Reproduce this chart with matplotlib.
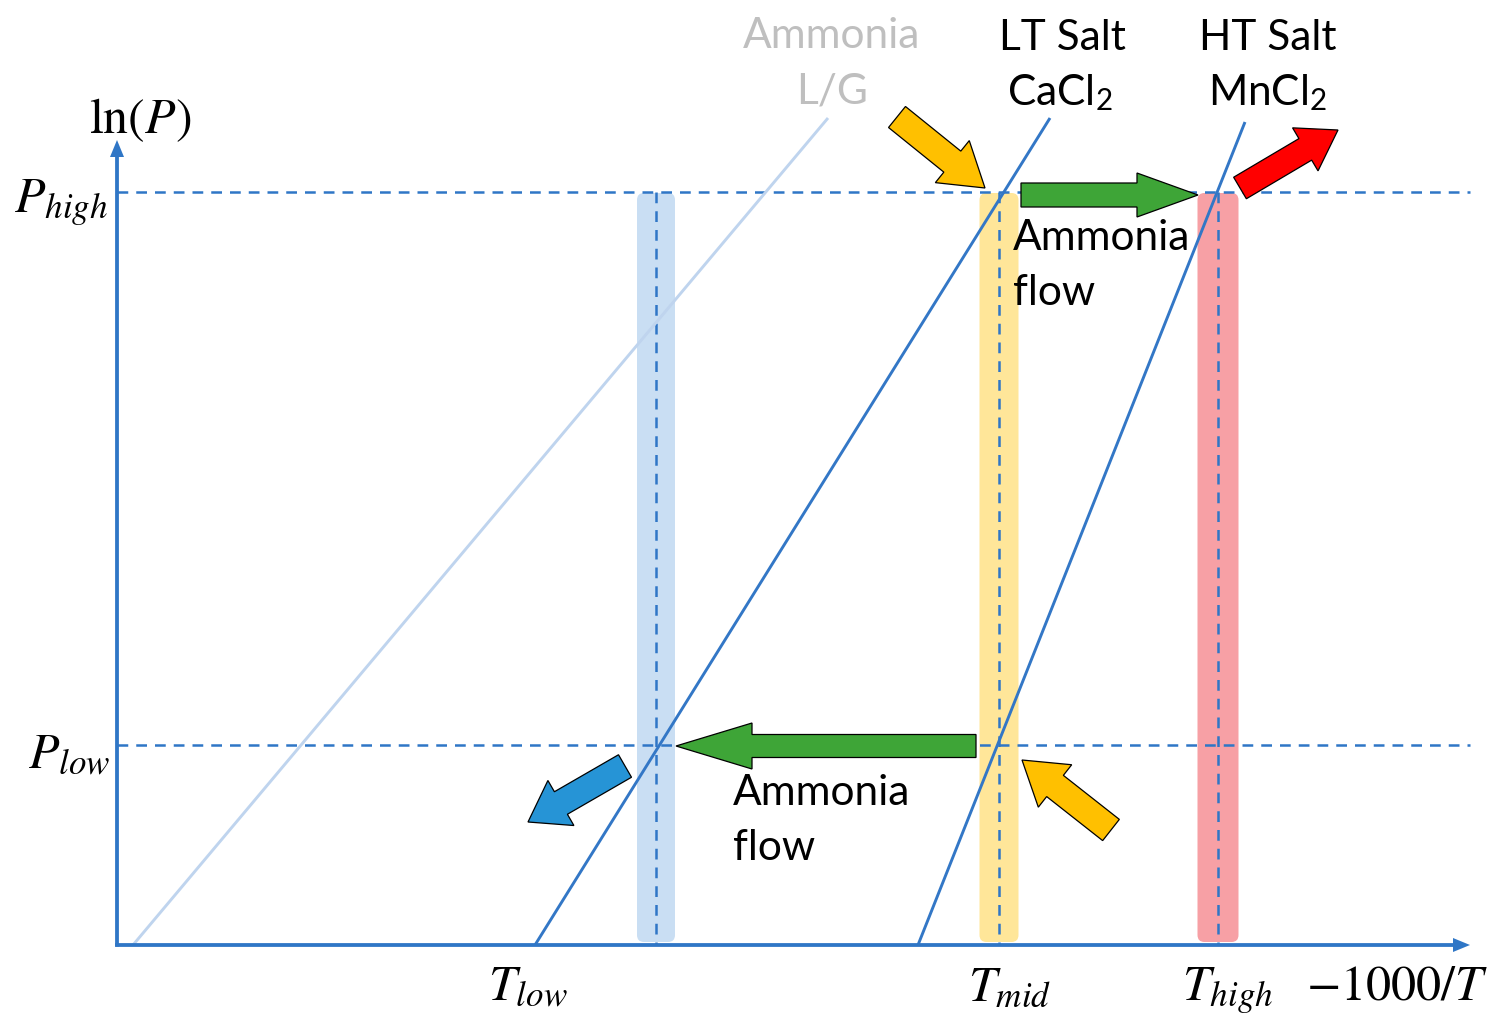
import matplotlib
matplotlib.use('Agg')
import matplotlib.pyplot as plt
from matplotlib.patches import FancyArrow, FancyBboxPatch

plt.rcParams['font.family'] = ['Lato', 'DejaVu Sans']
plt.rcParams['mathtext.fontset'] = 'stix'

# schematic coordinates (x: -1000/T, y: ln P, drawn top-down)
x_origin, y_origin = 117, 945
x_end, y_end = 1470, 140

# pressure levels and temperature levels
p_names = ['$P_{high}$', '$P_{low}$']
p_levels = [192, 745]
t_names = ['$T_{low}$', '$T_{mid}$', '$T_{high}$']
t_levels = [656, 999, 1218]
band_colors = ['#C9DEF3', '#FFE699', '#F7A0A5']
band_widths = [38, 39, 41]

# isostere lines (bottom x, top x, top y)
iso_x0 = [133, 535, 918]
iso_x1 = [828, 1050, 1245]
iso_ytop = [118, 118, 122]
iso_colors = ['#BFD4EE', '#3377C6', '#3377C6']

# heat / ammonia flow arrows: tail, tip, shaft width, head width, head length, colour
arr_tail = [(897, 117), (1021, 195), (1240, 188), (976, 746), (625, 766), (1111, 830)]
arr_tip = [(985, 188), (1198, 195), (1338, 130), (676, 746), (528, 822), (1022, 760)]
arr_width = [27, 24, 25, 23, 26, 27]
arr_head = [54, 44, 50, 46, 52, 54]
arr_hlen = [42, 61, 38, 76, 38, 42]
arr_colors = ['#FFC000', '#3EA537', '#FF0000', '#3EA537', '#2694D6', '#FFC000']

blue = '#2F76C6'

fig = plt.figure(figsize=(15.02, 10.28), dpi=100)
ax = fig.add_axes([0, 0, 1, 1])
ax.set_xlim(0, 1502)
ax.set_ylim(1028, 0)
ax.axis('off')

# temperature bands
for t, c, w in zip(t_levels, band_colors, band_widths):
    ax.add_patch(FancyBboxPatch((t - w / 2, p_levels[0] + 1), w, y_origin - p_levels[0] - 4,
                                boxstyle='round,pad=0,rounding_size=7', fc=c, ec='none', zorder=1))

# dashed guides
for p in p_levels:
    ax.plot([x_origin, x_end], [p, p], color=blue, lw=1.8, ls=(0, (4.3, 3.2)), zorder=2)
for t in t_levels:
    ax.plot([t, t], [p_levels[0], y_origin], color=blue, lw=1.8, ls=(0, (4.3, 3.2)), zorder=2)

# isosteres
for x0, x1, yt, c in zip(iso_x0, iso_x1, iso_ytop, iso_colors):
    ax.plot([x0, x1], [y_origin, yt], color=c, lw=2.1, zorder=3, solid_capstyle='butt')

# axes with arrow heads
ax.add_patch(FancyArrow(x_origin, y_origin + 1.5, 0, y_end - y_origin - 1.5, width=3.8, head_width=14,
                        head_length=17, length_includes_head=True, color=blue, lw=0, zorder=4))
ax.add_patch(FancyArrow(x_origin - 1.9, y_origin, x_end - x_origin + 1.9, 0, width=3.8, head_width=14,
                        head_length=17, length_includes_head=True, color=blue, lw=0, zorder=4))

# flow arrows
for (x0, y0), (x1, y1), w, hw, hl, c in zip(arr_tail, arr_tip, arr_width, arr_head, arr_hlen, arr_colors):
    ax.add_patch(FancyArrow(x0, y0, x1 - x0, y1 - y0, width=w, head_width=hw, head_length=hl,
                            length_includes_head=True, fc=c, ec='black', lw=0.9, zorder=5))

# math labels
ms = 36
ax.text(140, 133, r'$\ln(P)$', fontsize=ms, ha='center', va='baseline')
ax.text(108, 212, p_names[0], fontsize=ms, ha='right', va='baseline')
ax.text(110, 768, p_names[1], fontsize=ms, ha='right', va='baseline')
t_label_x = [528, 1010, 1228]
for tx, name in zip(t_label_x, t_names):
    ax.text(tx, 1000, name, fontsize=ms, ha='center', va='baseline')
ax.text(1397, 1000, r'$-1000/T$', fontsize=ms, ha='center', va='baseline')

# text labels
fs = 30.5
ax.text(832, 48, 'Ammonia', fontsize=fs, color='#BFBFBF', ha='center', va='baseline')
ax.text(832, 103, 'L/G', fontsize=fs, color='#BFBFBF', ha='center', va='baseline')
ax.text(1062, 50, 'LT Salt', fontsize=fs, ha='center', va='baseline')
ax.text(1060, 105, r'CaCl$_\mathregular{2}$', fontsize=fs, ha='center', va='baseline')
ax.text(1268, 50, 'HT Salt', fontsize=fs, ha='center', va='baseline')
ax.text(1268, 105, r'MnCl$_\mathregular{2}$', fontsize=fs, ha='center', va='baseline')
ax.text(1013, 250, 'Ammonia', fontsize=fs, ha='left', va='baseline', zorder=2.5)
ax.text(1013, 305, 'flow', fontsize=fs, ha='left', va='baseline', zorder=2.5)
ax.text(733, 805, 'Ammonia', fontsize=fs, ha='left', va='baseline')
ax.text(733, 860, 'flow', fontsize=fs, ha='left', va='baseline')

fig.savefig('out.png', dpi=100, facecolor='white')
